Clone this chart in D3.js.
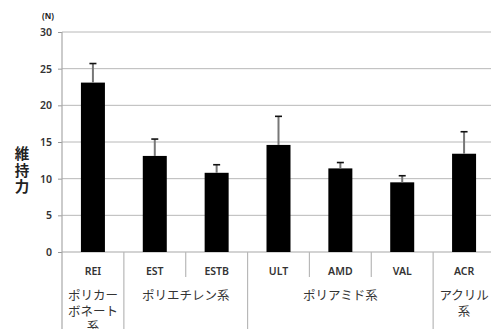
<!DOCTYPE html>
<html>
<head>
<meta charset="utf-8">
<script src="https://cdn.jsdelivr.net/npm/d3@7"></script>
<style>
  html, body { margin: 0; padding: 0; background: #fff; }
  svg { display: block; }
</style>
</head>
<body>
<svg id="chart" width="491" height="329"></svg>
<script>
// Retention force per product (N), mean and upper error
const codes = ["REI", "EST", "ESTB", "ULT", "AMD", "VAL", "ACR"];
const means = [23.1, 13.1, 10.8, 14.6, 11.4, 9.5, 13.4];
const upperErr = [25.7, 15.4, 11.9, 18.5, 12.2, 10.4, 16.4];
const yTicks = [0, 5, 10, 15, 20, 25, 30];

// Material groups spanning consecutive codes
const groupNames = [["ポリカー", "ボネート", "系"], ["ポリエチレン系"], ["ポリアミド系"], ["アクリル", "系"]];
const groupStart = [0, 1, 3, 6];
const groupSize = [1, 2, 3, 1];

const svg = d3.select("#chart");
const plotL = 62, plotT = 32, plotB = 252, plotR = 495;

const x = d3.scaleBand().domain(codes).range([plotL, plotR]).paddingInner(0).paddingOuter(0);
const y = d3.scaleLinear().domain([0, 30]).range([plotB, plotT]);

const jp = "'Noto Sans CJK JP', 'Noto Sans', sans-serif";
const lat = "'Noto Sans', 'DejaVu Sans', sans-serif";

// Horizontal gridlines
svg.append("g").selectAll("line").data(yTicks.filter(d => d > 0)).join("line")
  .attr("x1", plotL).attr("x2", plotR)
  .attr("y1", d => y(d)).attr("y2", d => y(d))
  .attr("stroke", "#b8b8b8").attr("stroke-width", 1);

// Y axis
const yAxis = d3.axisLeft(y).tickValues(yTicks).tickSize(4).tickPadding(6);
const gy = svg.append("g").attr("transform", `translate(${plotL},0)`).call(yAxis);
gy.select(".domain").remove();
gy.selectAll(".tick line").attr("stroke", "#999");
gy.selectAll(".tick text").attr("font-family", lat).attr("font-size", 10.5)
  .attr("font-weight", 600).attr("fill", "#333");

// Axis lines
svg.append("line").attr("x1", plotL).attr("x2", plotL).attr("y1", plotT).attr("y2", 329)
  .attr("stroke", "#a8a8a8").attr("stroke-width", 1.2);
svg.append("line").attr("x1", plotL).attr("x2", plotR).attr("y1", plotB).attr("y2", plotB)
  .attr("stroke", "#a8a8a8").attr("stroke-width", 1.2);

// Bars
const barW = 24;
svg.append("g").selectAll("rect").data(codes).join("rect")
  .attr("x", d => x(d) + x.bandwidth() / 2 - barW / 2)
  .attr("width", barW)
  .attr("y", (d, i) => y(means[i]))
  .attr("height", (d, i) => y(0) - y(means[i]))
  .attr("fill", "#000");

// Error bars (upper only)
const eg = svg.append("g");
codes.forEach((c, i) => {
  const cx = x(c) + x.bandwidth() / 2;
  eg.append("line").attr("x1", cx).attr("x2", cx)
    .attr("y1", y(means[i])).attr("y2", y(upperErr[i]))
    .attr("stroke", "#777").attr("stroke-width", 2);
  eg.append("line").attr("x1", cx - 3.5).attr("x2", cx + 3.5)
    .attr("y1", y(upperErr[i])).attr("y2", y(upperErr[i]))
    .attr("stroke", "#111").attr("stroke-width", 1.6);
});

// Category code labels and dividers
svg.append("g").selectAll("text").data(codes).join("text")
  .attr("x", d => x(d) + x.bandwidth() / 2)
  .attr("y", 274.5)
  .attr("text-anchor", "middle")
  .attr("font-family", lat).attr("font-size", 10.5).attr("font-weight", 600)
  .attr("fill", "#333")
  .text(d => d);

codes.forEach((c, i) => {
  if (i === 0) return;
  const full = groupStart.includes(i);
  svg.append("line").attr("x1", x(c)).attr("x2", x(c))
    .attr("y1", plotB).attr("y2", full ? 329 : 277)
    .attr("stroke", "#b8b8b8").attr("stroke-width", 1.2);
});

// Group labels (wrapped lines in one text element)
groupNames.forEach((lines, g) => {
  const x0 = x(codes[groupStart[g]]);
  const x1 = x0 + groupSize[g] * x.bandwidth();
  const cx = (x0 + x1) / 2;
  const t = svg.append("text")
    .attr("text-anchor", "middle")
    .attr("font-family", jp).attr("font-size", 12.5).attr("fill", "#333");
  lines.forEach((ln, k) => {
    t.append("tspan").attr("x", cx).attr("y", 300 + k * 15.5).text(ln);
  });
});

// Unit label
svg.append("text").attr("x", 48).attr("y", 19).attr("text-anchor", "middle")
  .attr("font-family", lat).attr("font-size", 8).attr("font-weight", 700)
  .attr("fill", "#222").text("(N)");

// Vertical axis title, stacked characters
const title = "維持力";
const tt = svg.append("text")
  .attr("text-anchor", "middle")
  .attr("font-family", jp).attr("font-size", 14.5).attr("font-weight", 700)
  .attr("fill", "#222");
Array.from(title).forEach((ch, i) => {
  tt.append("tspan").attr("x", 22).attr("y", 159 + i * 16.5).text(ch);
});
</script>
</body>
</html>
